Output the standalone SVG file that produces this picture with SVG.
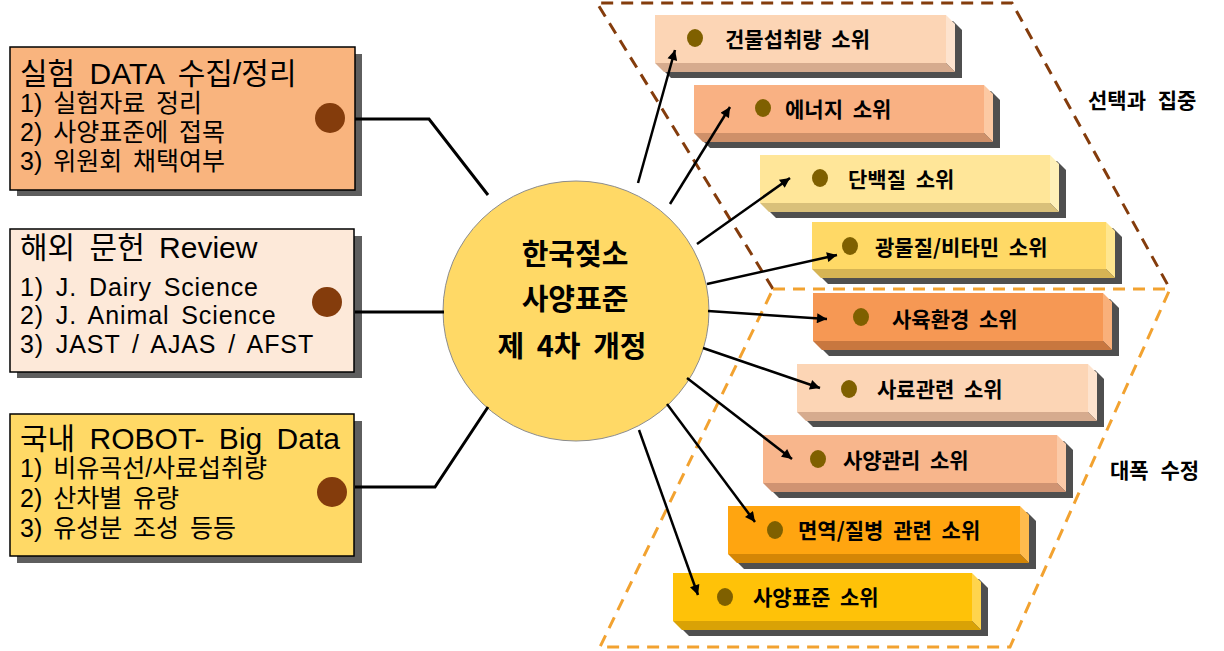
<svg xmlns="http://www.w3.org/2000/svg" width="1224" height="651" viewBox="0 0 1224 651">
<style>
.lt{font-family:"Liberation Sans","Noto Sans CJK KR",sans-serif;fill:#000}
.title{font-size:30px;word-spacing:6px}
.item{font-size:25px;word-spacing:4px}
.lat{letter-spacing:0.9px}
.rt{font-family:"Noto Sans CJK KR",sans-serif;font-size:21px;font-weight:bold;word-spacing:5px;fill:#000}
.ct{font-family:"Noto Sans CJK KR",sans-serif;font-size:29px;font-weight:bold;text-anchor:middle;word-spacing:6px;fill:#000}
.lbl{font-family:"Noto Sans CJK KR",sans-serif;font-size:21px;font-weight:bold;word-spacing:7px;fill:#000}
.shd{fill:#4f4f4f}
.lshd{fill:#5e5e5e}
.lbox{stroke:#000;stroke-width:1.5}
.conn{stroke:#000;stroke-width:3;fill:none}
.arr{stroke:#000;stroke-width:2.5;fill:none;marker-end:url(#ah)}
.dot{fill:#7f6000}
.ldot{fill:#843c0c}
.dashB{stroke:#843c0c;stroke-width:3;fill:none;stroke-dasharray:12 8}
.dashO{stroke:#f2a230;stroke-width:3;fill:none;stroke-dasharray:12 8}
</style>
<defs>
<marker id="ah" viewBox="0 0 10 10" refX="10" refY="5" markerWidth="13" markerHeight="10" markerUnits="userSpaceOnUse" orient="auto">
<path d="M0,0 L10,5 L0,10 z" fill="#000"/>
</marker>
</defs>
<rect width="1224" height="651" fill="#fff"/>

<!-- dashed regions -->
<g id="regions">
<path class="dashB" d="M773,289 L597,3 L1012,3 L1170,289"/>
<path class="dashO" d="M773,289 L1170,289 L1010,647 L600,647 Z"/>
<text class="lbl" x="1088" y="108">선택과 집중</text>
<text class="lbl" x="1110" y="478">대폭 수정</text>
</g>

<!-- left boxes -->
<g id="box-exp">
<rect class="lshd" x="17" y="54" width="345" height="142"/>
<rect class="lbox" x="10" y="47" width="345" height="143" fill="#f9b47e"/>
<text class="lt title" x="20" y="84">실험 DATA 수집/정리</text>
<text class="lt item" x="20" y="112">1) 실험자료 정리</text>
<text class="lt item" x="20" y="141">2) 사양표준에 접목</text>
<text class="lt item" x="20" y="170">3) 위원회 채택여부</text>
<circle class="ldot" cx="330" cy="118" r="15"/>
</g>
<g id="box-review">
<rect class="lshd" x="17" y="236" width="345" height="142"/>
<rect class="lbox" x="10" y="229" width="344" height="143" fill="#fde9d9"/>
<text class="lt title" x="20" y="258">해외 문헌 Review</text>
<text class="lt item lat" x="20" y="296">1) J. Dairy Science</text>
<text class="lt item lat" x="20" y="324">2) J. Animal Science</text>
<text class="lt item lat" x="20" y="353">3) JAST / AJAS / AFST</text>
<circle class="ldot" cx="327" cy="302" r="15"/>
</g>
<g id="box-robot">
<rect class="lshd" x="17" y="421" width="345" height="142"/>
<rect class="lbox" x="10" y="414" width="344" height="142" fill="#ffd966"/>
<text class="lt title" x="20" y="449">국내 ROBOT- Big Data</text>
<text class="lt item" x="20" y="477">1) 비유곡선/사료섭취량</text>
<text class="lt item" x="20" y="507">2) 산차별 유량</text>
<text class="lt item" x="20" y="537">3) 유성분 조성 등등</text>
<circle class="ldot" cx="332" cy="492" r="15"/>
</g>

<!-- center -->
<g id="center">
<ellipse cx="576" cy="311" rx="133" ry="130" fill="#ffd966" stroke="#8c8c8c" stroke-width="1"/>
<text class="ct" x="575" y="265">한국젖소</text>
<text class="ct" x="575" y="310">사양표준</text>
<text class="ct" x="572" y="357">제 4차 개정</text>
</g>

<!-- right boxes: face (x,y,w,h), extrusion d=9, shadow offset (7,6) -->
<g id="sub-building">
<polygon class="shd" points="662,21 953,21 962,30 962,78 671,78 662,69"/>
<polygon points="946,15 955,24 955,72 946,63" fill="#fde3ce"/>
<polygon points="655,63 946,63 955,72 664,72" fill="#d6ab8e"/>
<rect x="655" y="15" width="291" height="48" fill="#fcd5b5"/>
<ellipse class="dot" cx="695" cy="38" rx="8" ry="9"/>
<text class="rt" x="725" y="47">건물섭취량 소위</text>
</g>
<g id="sub-energy">
<polygon class="shd" points="701,91 991,91 1000,100 1000,148 710,148 701,139"/>
<polygon points="984,85 993,94 993,142 984,133" fill="#fcc9a3"/>
<polygon points="694,133 984,133 993,142 703,142" fill="#cf9069"/>
<rect x="694" y="85" width="290" height="48" fill="#f9b183"/>
<ellipse class="dot" cx="763" cy="108" rx="8" ry="9"/>
<text class="rt" x="785" y="117">에너지 소위</text>
</g>
<g id="sub-protein">
<polygon class="shd" points="767,161 1057,161 1066,170 1066,218 776,218 767,209"/>
<polygon points="1050,155 1059,164 1059,212 1050,203" fill="#fff0b8"/>
<polygon points="760,203 1050,203 1059,212 769,212" fill="#d9c07a"/>
<rect x="760" y="155" width="290" height="48" fill="#ffe699"/>
<ellipse class="dot" cx="820" cy="178" rx="8" ry="9"/>
<text class="rt" x="848" y="187">단백질 소위</text>
</g>
<g id="sub-mineral">
<polygon class="shd" points="819,228 1113,228 1122,237 1122,284 828,284 819,275"/>
<polygon points="1106,222 1115,231 1115,278 1106,269" fill="#ffe68f"/>
<polygon points="812,269 1106,269 1115,278 821,278" fill="#d6b454"/>
<rect x="812" y="222" width="294" height="47" fill="#ffd966"/>
<ellipse class="dot" cx="850" cy="246" rx="8" ry="9"/>
<text class="rt" x="875" y="255">광물질/비타민 소위</text>
</g>
<g id="sub-environment">
<polygon class="shd" points="820,299 1110,299 1119,308 1119,356 829,356 820,347"/>
<polygon points="1103,293 1112,302 1112,350 1103,341" fill="#f9b07a"/>
<polygon points="813,341 1103,341 1112,350 822,350" fill="#c8773f"/>
<rect x="813" y="293" width="290" height="48" fill="#f69854"/>
<ellipse class="dot" cx="861" cy="317" rx="8" ry="9"/>
<text class="rt" x="892" y="327">사육환경 소위</text>
</g>
<g id="sub-feed">
<polygon class="shd" points="804,370 1095,370 1104,379 1104,427 813,427 804,418"/>
<polygon points="1088,364 1097,373 1097,421 1088,412" fill="#fde3ce"/>
<polygon points="797,412 1088,412 1097,421 806,421" fill="#d6ab8e"/>
<rect x="797" y="364" width="291" height="48" fill="#fcd5b5"/>
<ellipse class="dot" cx="849" cy="389" rx="8" ry="9"/>
<text class="rt" x="877" y="397">사료관련 소위</text>
</g>
<g id="sub-management">
<polygon class="shd" points="770,441 1064,441 1073,450 1073,498 779,498 770,489"/>
<polygon points="1057,435 1066,444 1066,492 1057,483" fill="#fbcaa8"/>
<polygon points="763,483 1057,483 1066,492 772,492" fill="#d09372"/>
<rect x="763" y="435" width="294" height="48" fill="#f8b68c"/>
<ellipse class="dot" cx="818" cy="459" rx="8" ry="9"/>
<text class="rt" x="843" y="468">사양관리 소위</text>
</g>
<g id="sub-immunity">
<polygon class="shd" points="735,512 1027,512 1036,521 1036,569 744,569 735,560"/>
<polygon points="1020,506 1029,515 1029,563 1020,554" fill="#ffbb4d"/>
<polygon points="728,554 1020,554 1029,563 737,563" fill="#d48606"/>
<rect x="728" y="506" width="292" height="48" fill="#ffa510"/>
<ellipse class="dot" cx="775" cy="530" rx="8" ry="9"/>
<text class="rt" x="798" y="538">면역/질병 관련 소위</text>
</g>
<g id="sub-standard">
<polygon class="shd" points="680,579 979,579 988,588 988,636 689,636 680,627"/>
<polygon points="972,573 981,582 981,630 972,621" fill="#ffd44d"/>
<polygon points="673,621 972,621 981,630 682,630" fill="#d9a206"/>
<rect x="673" y="573" width="299" height="48" fill="#ffc208"/>
<ellipse class="dot" cx="725" cy="597" rx="8" ry="9"/>
<text class="rt" x="753" y="605">사양표준 소위</text>
</g>

<!-- connectors (drawn on top so arrowheads show) -->
<g id="connectors">
<polyline class="conn" points="355,119 429,119 488,195"/>
<line class="conn" x1="355" y1="312" x2="444" y2="312"/>
<polyline class="conn" points="355,487 435,487 488,407"/>
<line class="arr" x1="638" y1="183" x2="675" y2="50"/>
<line class="arr" x1="670" y1="204" x2="730" y2="107"/>
<line class="arr" x1="697" y1="244" x2="790" y2="178"/>
<line class="arr" x1="707" y1="284" x2="837" y2="255"/>
<line class="arr" x1="708" y1="311" x2="827" y2="319"/>
<line class="arr" x1="703" y1="348" x2="820" y2="388"/>
<line class="arr" x1="687" y1="378" x2="792" y2="459"/>
<line class="arr" x1="667" y1="404" x2="755" y2="522"/>
<line class="arr" x1="639" y1="430" x2="698" y2="595"/>
</g>
</svg>
